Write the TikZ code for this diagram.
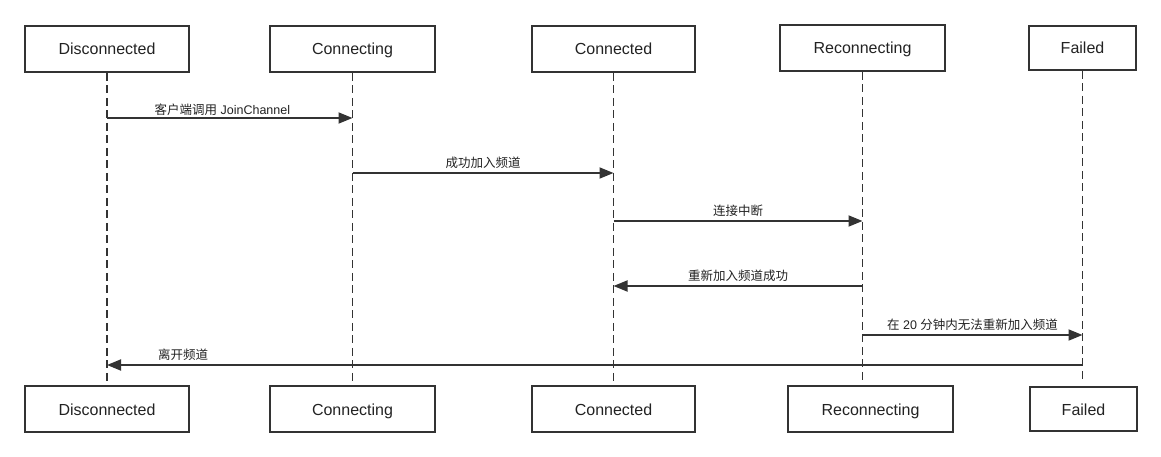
\documentclass[tikz,border=0pt]{standalone}
\usepackage{fontspec}
\setmainfont{Liberation Sans}
\newfontfamily\cjk{Noto Sans CJK SC}
\usetikzlibrary{arrows.meta}
\definecolor{ink}{HTML}{333333}
\definecolor{txt}{HTML}{222222}

\begin{document}
\begin{tikzpicture}[x=1pt, y=-1pt,
	state/.style={draw=ink, line width=1.8pt, text=txt, inner sep=0pt, minimum height=46pt, text height=12pt, text depth=0pt, font=\fontsize{16}{19}\selectfont},
	lifeline/.style={draw=ink, line width=1.8pt, dash pattern=on 8pt off 4.5pt},
	msg/.style={draw=ink, line width=1.8pt, -{Triangle[length=14pt,width=11pt]}},
	lbl/.style={text=txt, font=\fontsize{12.5}{15}\selectfont, above=0pt}]
\useasboundingbox (0,0) rectangle (1161,457);
% top row
\node[state, minimum width=164pt] (dtop) at (107,49) {Disconnected};
\node[state, minimum width=165pt] (ctop) at (352.5,49) {Connecting};
\node[state, minimum width=163pt] (cdtop) at (613.5,49) {Connected};
\node[state, minimum width=165pt] (rtop) at (862.5,48) {Reconnecting};
\node[state, minimum width=107pt, minimum height=44pt] (ftop) at (1082.5,48) {Failed};
% bottom row
\node[state, minimum width=164pt] (dbot) at (107,409) {Disconnected};
\node[state, minimum width=165pt] (cbot) at (352.5,409) {Connecting};
\node[state, minimum width=163pt] (cdbot) at (613.5,409) {Connected};
\node[state, minimum width=165pt] (rbot) at (870.5,409) {Reconnecting};
\node[state, minimum width=107pt, minimum height=44pt] (fbot) at (1083.5,409) {Failed};
% lifelines
\foreach \n in {dtop,ctop,cdtop,rtop,ftop}{
	\coordinate (\n-end) at (\n |- 0,381);
	\draw[lifeline] (\n) -- (\n-end);
}
% messages
\draw[msg] (dtop |- 0,118) -- node[lbl, pos=0.47, yshift=-2pt]{{\cjk 客户端调用} JoinChannel} (ctop |- 0,118);
\draw[msg] (ctop |- 0,173) -- node[lbl]{\cjk 成功加入频道} (cdtop |- 0,173);
\draw[msg] (cdtop |- 0,221) -- node[lbl]{\cjk 连接中断} (rtop |- 0,221);
\draw[msg] (rtop |- 0,286) -- node[lbl]{\cjk 重新加入频道成功} (cdtop |- 0,286);
\draw[msg] (rtop |- 0,335) -- node[lbl]{{\cjk 在} 20 {\cjk 分钟内无法重新加入频道}} (ftop |- 0,335);
\draw[msg] (ftop |- 0,365) -- node[lbl, pos=0.922]{\cjk 离开频道} (dtop |- 0,365);
\end{tikzpicture}
\end{document}
